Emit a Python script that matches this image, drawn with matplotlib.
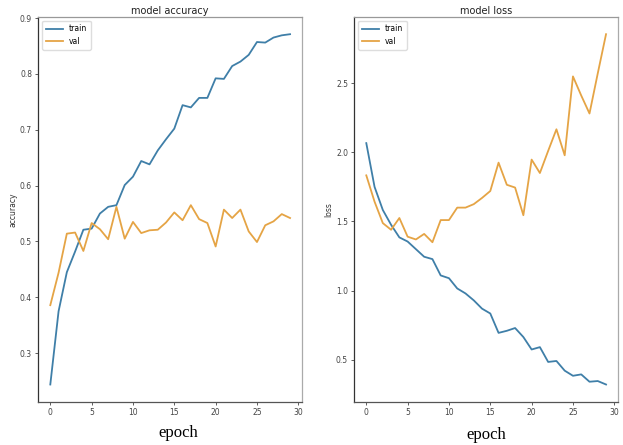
import matplotlib
matplotlib.use("Agg")
from matplotlib import pyplot as plt

epochs = list(range(30))

acc_train = [0.244, 0.375, 0.445, 0.482, 0.521, 0.523, 0.550, 0.562, 0.565, 0.601,
             0.616, 0.644, 0.638, 0.663, 0.683, 0.702, 0.744, 0.740, 0.757, 0.757,
             0.792, 0.791, 0.814, 0.822, 0.834, 0.857, 0.856, 0.865, 0.869, 0.871]
acc_val = [0.386, 0.444, 0.514, 0.516, 0.483, 0.533, 0.522, 0.504, 0.562, 0.505,
           0.535, 0.515, 0.520, 0.521, 0.534, 0.552, 0.538, 0.565, 0.540, 0.533,
           0.491, 0.557, 0.542, 0.557, 0.518, 0.499, 0.529, 0.536, 0.549, 0.542]

loss_train = [2.066, 1.750, 1.583, 1.476, 1.385, 1.355, 1.300, 1.245, 1.228, 1.110,
              1.090, 1.016, 0.980, 0.930, 0.870, 0.835, 0.695, 0.710, 0.730, 0.665,
              0.575, 0.592, 0.485, 0.492, 0.422, 0.385, 0.395, 0.342, 0.347, 0.322]
loss_val = [1.833, 1.643, 1.488, 1.440, 1.525, 1.390, 1.370, 1.410, 1.350, 1.510,
            1.510, 1.600, 1.600, 1.625, 1.670, 1.720, 1.925, 1.765, 1.745, 1.545,
            1.947, 1.850, 2.010, 2.166, 1.978, 2.548, 2.410, 2.280, 2.570, 2.853]

blue = '#3f7fa8'
orange = '#e5a445'

fig = plt.figure(figsize=(6.23, 4.45), dpi=100)
ax1 = fig.add_axes([0.0615, 0.0966, 0.4233, 0.8659])
ax2 = fig.add_axes([0.5687, 0.0966, 0.4233, 0.8659])

panels = [(ax1, acc_train, acc_val, 'model accuracy', 'accuracy'),
          (ax2, loss_train, loss_val, 'model loss', 'loss')]

for ax, tr, va, title, ylab in panels:
    ax.plot(epochs, tr, color=blue, lw=1.3, label='train')
    ax.plot(epochs, va, color=orange, lw=1.3, label='val')
    ax.set_title(title, fontsize=7, pad=2, color='#222222')
    ax.set_ylabel(ylab, fontsize=5.5, labelpad=2, color='#333333')
    ax.set_xticks([0, 5, 10, 15, 20, 25, 30])
    ax.tick_params(labelsize=5.5, length=2.5, width=0.6, pad=2, colors='#444444')
    ax.legend(loc='upper left', fontsize=5.5, frameon=True, framealpha=1,
              edgecolor='#dddddd', handlelength=2.2, borderpad=0.5)
    ax.spines['left'].set_color('#333333')
    ax.spines['bottom'].set_color('#555555')
    ax.spines['top'].set_color('#999999')
    ax.spines['right'].set_color('#aaaaaa')
    for s in ax.spines.values():
        s.set_linewidth(0.9)

ax1.set_yticks([0.3, 0.4, 0.5, 0.6, 0.7, 0.8, 0.9])
ax2.set_yticks([0.5, 1.0, 1.5, 2.0, 2.5])

fig.text(178 / 623, 1 - 433 / 445, 'epoch', family='Liberation Serif',
         fontsize=12, ha='center', va='center')
fig.text(486 / 623, 1 - 435 / 445, 'epoch', family='Liberation Serif',
         fontsize=12, ha='center', va='center')

fig.savefig('out.png', dpi=100)
